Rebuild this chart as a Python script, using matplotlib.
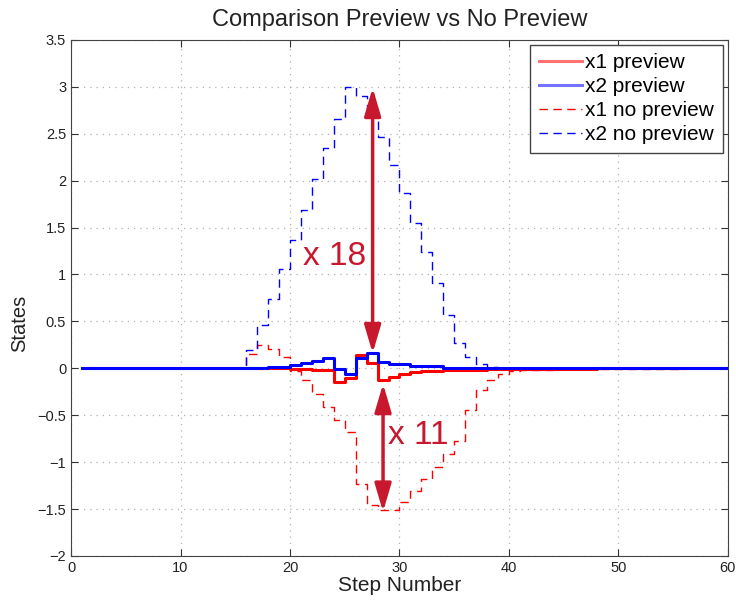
import matplotlib
matplotlib.use('Agg')
import matplotlib.pyplot as plt
import numpy as np

plt.rcParams['font.family'] = ['Liberation Sans', 'DejaVu Sans']

# step index 1..60
steps = np.arange(1, 61)

# x1 with preview (solid red)
x1_pre = [0, 0, 0, 0, 0, 0, 0, 0, 0, 0,
          0, 0, 0, 0, 0, 0, 0, 0, 0, -0.005,
          -0.01, -0.013, -0.015, -0.146, -0.10, 0.14, 0.057, -0.125, -0.09, -0.06,
          -0.04, -0.03, -0.028, -0.02, -0.018, -0.015, -0.013, -0.011, -0.01, -0.008,
          -0.007, -0.006, -0.005, -0.004, -0.004, -0.003, -0.003, -0.002, -0.002, -0.002,
          -0.001, -0.001, -0.001, -0.001, 0, 0, 0, 0, 0, 0]

# x2 with preview (solid blue)
x2_pre = [0, 0, 0, 0, 0, 0, 0, 0, 0, 0,
          0, 0, 0, 0, 0, 0.003, 0.005, 0.014, 0.014, 0.03,
          0.057, 0.08, 0.115, -0.005, -0.06, 0.105, 0.163, 0.07, 0.043, 0.043,
          0.02, 0.02, 0.02, 0.008, 0.007, 0.006, 0.005, 0.005, 0.004, 0.004,
          0.003, 0.003, 0.002, 0.002, 0.002, 0.001, 0.001, 0.001, 0.001, 0,
          0, 0, 0, 0, 0, 0, 0, 0, 0, 0]

# x1 without preview (dashed red)
x1_nopre = [0, 0, 0, 0, 0, 0, 0, 0, 0, 0,
            0, 0, 0, 0, 0, 0.15, 0.245, 0.21, 0.12, -0.03,
            -0.12, -0.27, -0.41, -0.55, -0.68, -1.23, -1.46, -1.51, -1.51, -1.43,
            -1.31, -1.18, -1.05, -0.91, -0.78, -0.44, -0.23, -0.12, -0.065, -0.03,
            -0.015, -0.02, -0.015, -0.012, -0.01, -0.01, -0.012, -0.01, -0.008, -0.012,
            -0.008, -0.006, -0.005, -0.004, -0.003, -0.002, -0.002, -0.001, -0.001, 0]

# x2 without preview (dashed blue)
x2_nopre = [0, 0, 0, 0, 0, 0, 0, 0, 0, 0,
            0, 0, 0, 0, 0, 0.20, 0.46, 0.74, 1.06, 1.37,
            1.69, 2.02, 2.35, 2.66, 3.0, 2.9, 2.73, 2.46, 2.17, 1.87,
            1.55, 1.24, 0.91, 0.57, 0.27, 0.12, 0.05, 0.01, 0.005, 0.004,
            0.003, 0.003, 0.002, 0.002, 0.002, 0.001, 0.001, 0.001, 0, 0,
            0, 0, 0, 0, 0, 0, 0, 0, 0, 0]

arrow_col = '#c8182e'

fig = plt.figure(figsize=(7.36, 6.04), dpi=100)
ax = fig.add_axes([0.0965, 0.0795, 0.8925, 0.8545])

ax.step(steps, x1_pre, where='post', color='red', lw=2.2, zorder=3, label='x1 preview')
ax.step(steps, x2_pre, where='post', color='blue', lw=2.2, zorder=4, label='x2 preview')
ax.step(steps, x1_nopre, where='post', color='red', lw=1, ls=(0, (6, 4)), zorder=2,
        label='x1 no preview')
ax.step(steps, x2_nopre, where='post', color='blue', lw=1, ls=(0, (6, 4)), zorder=2,
        label='x2 no preview')

# amplitude arrows
ax.annotate('', xy=(27.55, 2.99), xytext=(27.55, 0.16),
            arrowprops=dict(arrowstyle='<|-|>,head_length=0.85,head_width=0.25',
                            mutation_scale=20, color=arrow_col, lw=2.5,
                            shrinkA=0, shrinkB=0), zorder=6)
ax.annotate('', xy=(28.5, -0.165), xytext=(28.5, -1.53),
            arrowprops=dict(arrowstyle='<|-|>,head_length=0.85,head_width=0.25',
                            mutation_scale=20, color=arrow_col, lw=2.5,
                            shrinkA=0, shrinkB=0), zorder=6)
ax.text(24.1, 1.19, 'x 18', color=arrow_col, fontsize=24, ha='center', va='center', zorder=6)
ax.text(31.7, -0.715, 'x 11', color=arrow_col, fontsize=24, ha='center', va='center', zorder=6)

ax.set_xlim(0, 60)
ax.set_ylim(-2, 3.5)
ax.set_xticks(np.arange(0, 61, 10))
ax.set_yticks(np.arange(-2, 3.51, 0.5))
ax.set_yticklabels(['\u22122', '\u22121.5', '\u22121', '\u22120.5', '0', '0.5', '1',
                    '1.5', '2', '2.5', '3', '3.5'])
ax.tick_params(direction='in', top=True, right=True, length=5, labelsize=10.5,
               colors='#333333', labelcolor='#222222')
for s in ax.spines.values():
    s.set_color('#444444')
ax.grid(True, color='#b0b0b0', ls=(0, (1, 4)), lw=0.9)

ax.set_title('Comparison Preview vs No Preview', fontsize=17, color='#222222', pad=10)
ax.set_xlabel('Step Number', fontsize=15, color='#222222', labelpad=1)
ax.set_ylabel('States', fontsize=14.5, color='#222222')
ax.yaxis.set_label_coords(-0.064, 0.45)

leg = ax.legend(loc='upper right', fontsize=15, handlelength=2.1, handletextpad=0.15,
                labelspacing=0.24, borderaxespad=0.25, borderpad=0.4,
                fancybox=False, framealpha=1, edgecolor='#444444')
leg.get_frame().set_linewidth(1)
for h in leg.get_lines()[:2]:
    h.set_alpha(0.55)

fig.savefig('out.png', dpi=100)
